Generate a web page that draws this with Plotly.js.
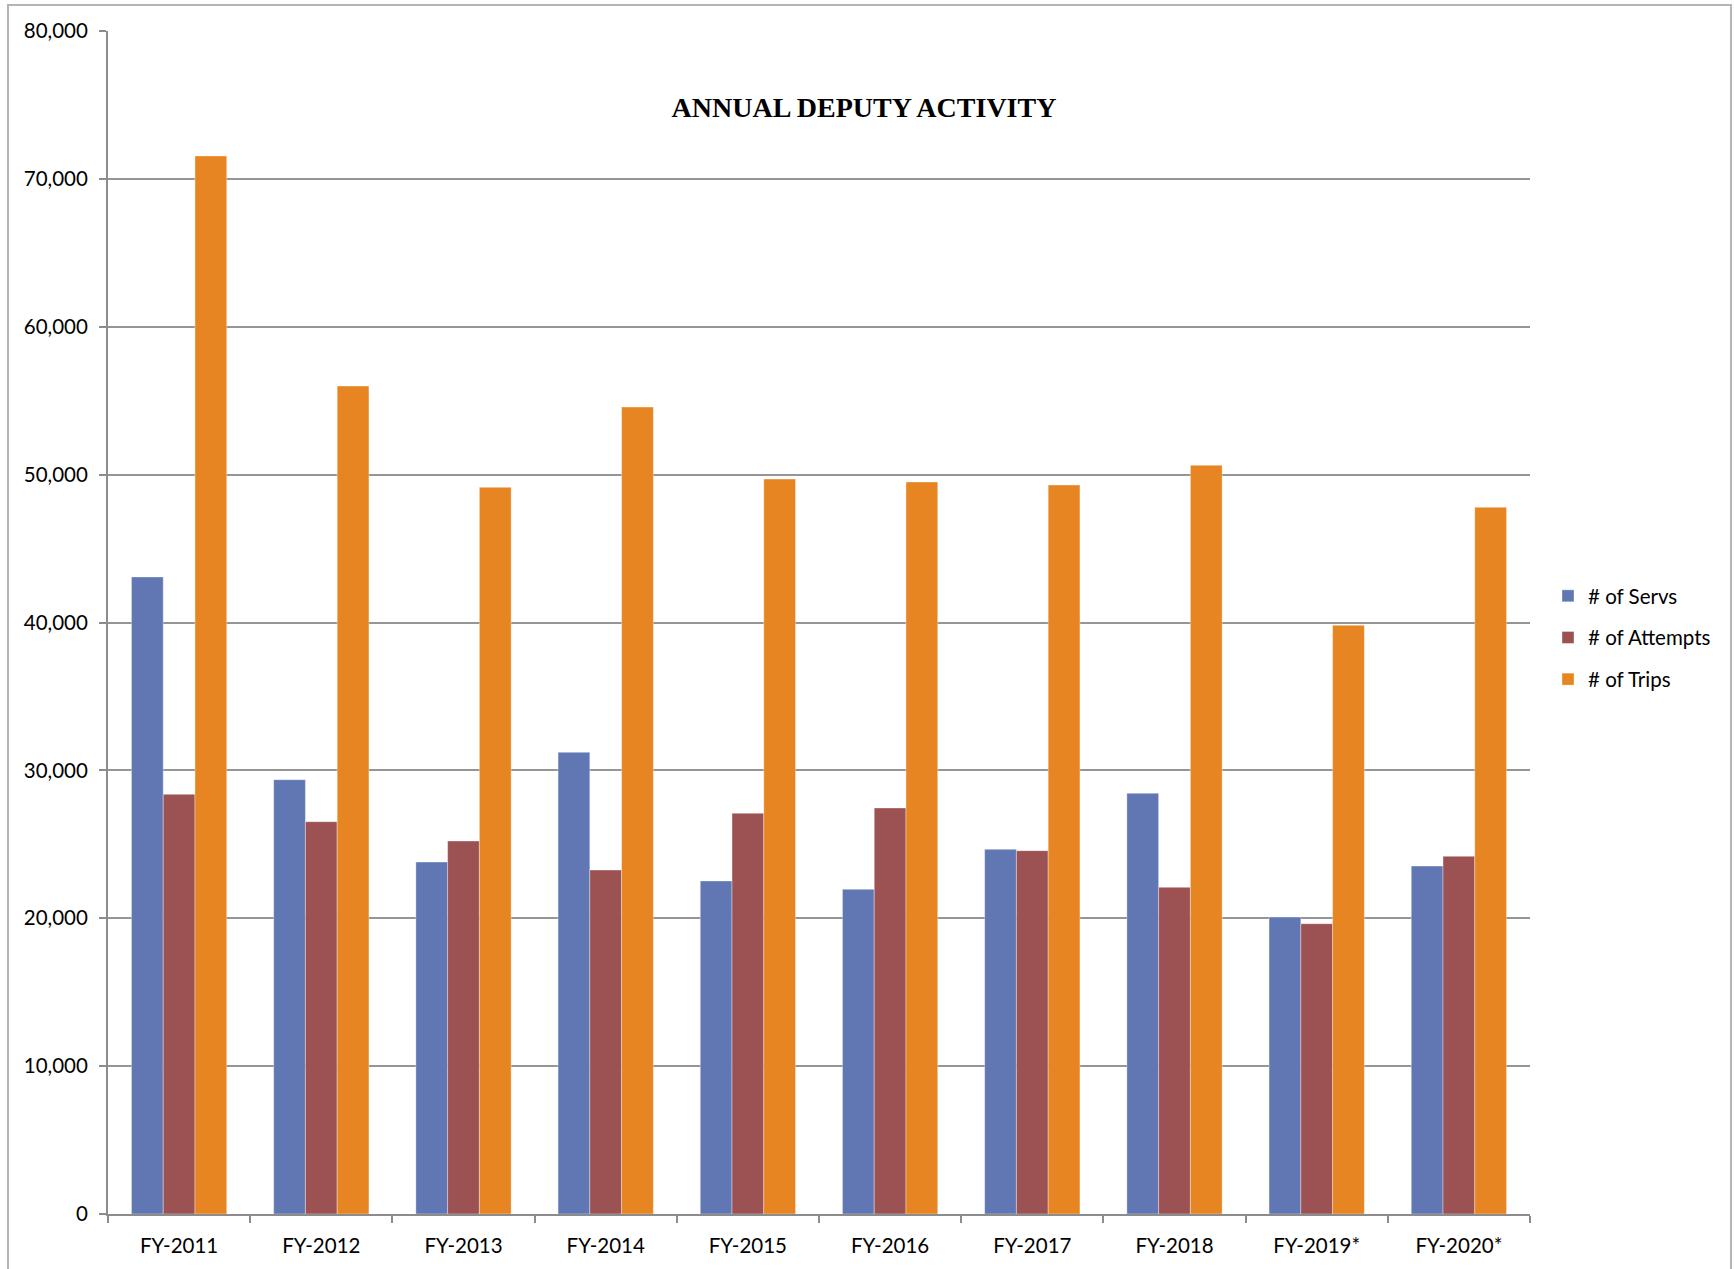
<!DOCTYPE html>
<html>
<head>
<meta charset="utf-8">
<script src="https://cdn.plot.ly/plotly-3.0.1.min.js"></script>
<style>
  html, body { margin: 0; padding: 0; background: #ffffff; }
  #chart { width: 1734px; height: 1269px; }
</style>
</head>
<body>
<div id="chart"></div>
<script>
const categories = ['FY-2011', 'FY-2012', 'FY-2013', 'FY-2014', 'FY-2015', 'FY-2016', 'FY-2017', 'FY-2018', 'FY-2019*', 'FY-2020*'];
const servs    = [43080, 29370, 23800, 31220, 22520, 21960, 24660, 28450, 20080, 23530];
const attempts = [28380, 26530, 25220, 23260, 27100, 27460, 24570, 22090, 19630, 24190];
const trips    = [71550, 55990, 49140, 54570, 49700, 49500, 49300, 50630, 39810, 47790];
const seriesNames = ['# of Servs', '# of Attempts', '# of Trips'];
const chartTitle = 'ANNUAL DEPUTY ACTIVITY';

const colors = ['#6077b4', '#9c5252', '#e68521'];
const seriesData = [servs, attempts, trips];

const traces = seriesData.map((vals, i) => ({
  type: 'bar',
  name: seriesNames[i],
  x: categories,
  y: vals,
  legendgroup: 'g' + i,
  marker: { color: colors[i], line: { width: 0.6, color: 'rgba(255,255,255,0.6)' } },
  hoverinfo: 'x+y+name'
}));

const axisFont = { family: 'Lato, "Open Sans", sans-serif', size: 20.5, color: '#000000' };

const layout = {
  width: 1734,
  height: 1269,
  paper_bgcolor: '#ffffff',
  plot_bgcolor: '#ffffff',
  margin: { l: 108, r: 204, t: 31, b: 55, pad: 0 },
  barmode: 'group',
  bargap: 0.33,
  bargroupgap: 0,
  showlegend: true,
  title: {
    text: '<b>' + chartTitle + '</b>',
    font: { family: '"Liberation Serif", "Times New Roman", serif', size: 28, color: '#000000' },
    xref: 'container', yref: 'container',
    x: 864 / 1734, xanchor: 'center',
    y: 1 - 107 / 1269, yanchor: 'middle'
  },
  xaxis: {
    type: 'category',
    tickson: 'boundaries',
    ticks: 'outside',
    ticklen: 7,
    tickwidth: 2,
    tickcolor: '#8c8c8c',
    showline: true,
    linecolor: '#8c8c8c',
    linewidth: 2,
    showgrid: false,
    zeroline: false,
    tickfont: axisFont,
    ticklabelstandoff: 12,
    fixedrange: true
  },
  yaxis: {
    range: [0, 80000],
    dtick: 10000,
    tick0: 0,
    tickformat: ',d',
    ticks: 'outside',
    ticklen: 7,
    tickwidth: 2,
    tickcolor: '#8c8c8c',
    showline: true,
    linecolor: '#8c8c8c',
    linewidth: 2,
    showgrid: true,
    gridcolor: '#959595',
    gridwidth: 2,
    zeroline: false,
    tickfont: axisFont,
    ticklabelstandoff: 7,
    fixedrange: true
  },
  legend: {
    x: (1548 - 108) / 1422,
    xanchor: 'left',
    y: (1214 - 576) / 1183,
    yanchor: 'top',
    font: axisFont,
    bgcolor: 'rgba(0,0,0,0)',
    borderwidth: 0,
    tracegroupgap: 12,
    itemclick: false,
    itemdoubleclick: false
  },
  shapes: [{
    type: 'rect',
    xref: 'paper', yref: 'paper',
    x0: (8 - 108) / 1422, x1: (1731 - 108) / 1422,
    y0: (1214 - 1290) / 1183, y1: (1214 - 5) / 1183,
    line: { color: '#b4b4b4', width: 2 },
    fillcolor: 'rgba(0,0,0,0)',
    layer: 'below'
  }]
};

Plotly.newPlot('chart', traces, layout, { displayModeBar: false, staticPlot: true });
</script>
</body>
</html>
